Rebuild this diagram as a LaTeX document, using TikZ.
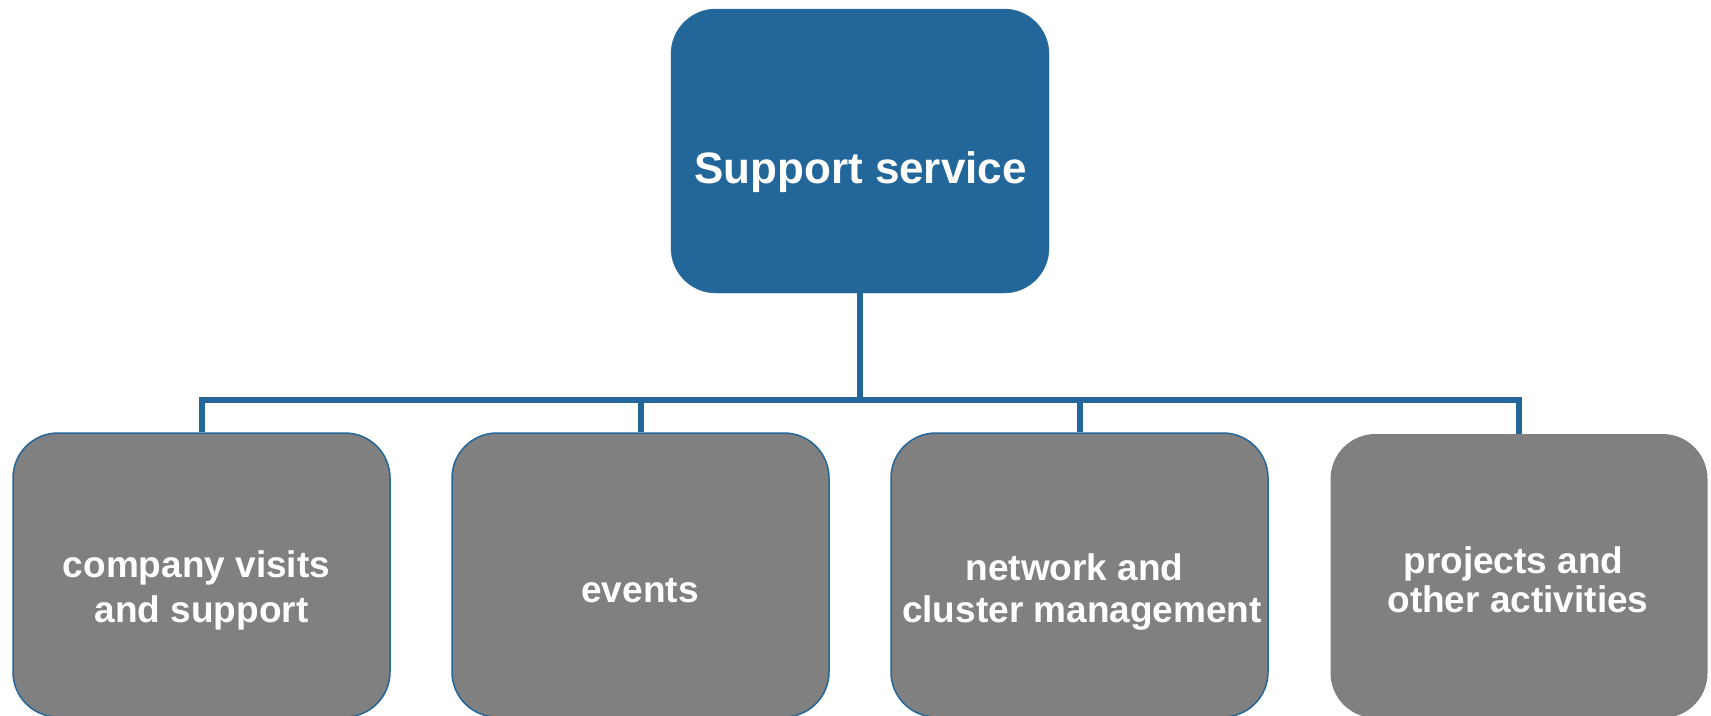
\documentclass[tikz,border=0pt]{standalone}
\usepackage{fontspec}
\setmainfont{Liberation Sans}
\definecolor{topblue}{RGB}{35,102,153}
\definecolor{boxgray}{RGB}{128,128,128}
\begin{document}
\begin{tikzpicture}[x=1pt,y=-1pt,
  topbox/.style={fill=topblue,draw=topblue,rounded corners=45pt,minimum width=378pt,minimum height=284pt,inner sep=0pt},
  childbox/.style={fill=boxgray,draw=topblue,line width=1.5pt,rounded corners=45pt,minimum width=377pt,minimum height=284pt,inner sep=0pt},
  plainbox/.style={fill=boxgray,rounded corners=45pt,minimum width=377pt,minimum height=284pt,inner sep=0pt},
  toptext/.style={text=white,font=\fontsize{44}{50}\selectfont\bfseries,anchor=base,inner sep=0pt},
  ctext/.style={text=white,font=\fontsize{37}{44}\selectfont\bfseries,anchor=base,inner sep=0pt},
  link/.style={draw=topblue,line width=6pt}]
\useasboundingbox (0,0) rectangle (1711,715);
\node[topbox] (top) at (860,151) {};
\node[childbox] (c1) at (201.5,575) {};
\node[childbox] (c2) at (640.5,575) {};
\node[childbox] (c3) at (1079.5,575) {};
\node[plainbox] (c4) at (1519,576) {};
\coordinate (bus) at (860,400);
\draw[link] (top.south) -- (top.south |- bus) -| (c1.north);
\draw[link] (top.south) -- (top.south |- bus) -| (c2.north);
\draw[link] (top.south) -- (top.south |- bus) -| (c3.north);
\draw[link] (top.south) -- (top.south |- bus) -| (c4.north);
\node[toptext] (t0) at (860.5,183) {Support service};
\node[ctext] (t1a) at (196.5,577) {company visits};
\node[ctext] (t1b) at (201.5,622) {and support};
\node[ctext] (t2) at (640,602) {events};
\node[ctext] (t3a) at (1074.5,580) {network and};
\node[ctext] (t3b) at (1082,622) {cluster management};
\node[ctext] (t4a) at (1513.5,573) {projects and};
\node[ctext] (t4b) at (1518,612) {other activities};
\end{tikzpicture}
\end{document}
